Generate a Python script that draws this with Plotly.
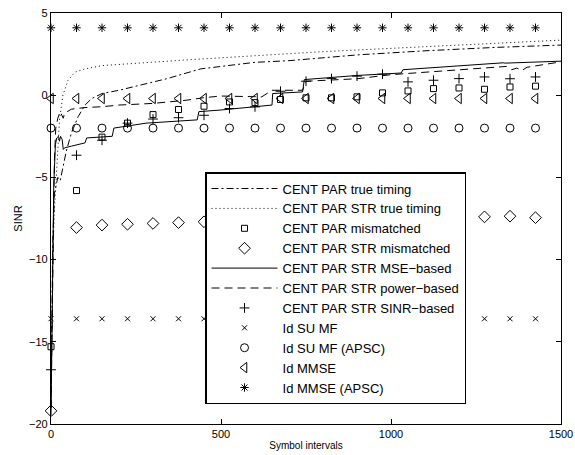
import plotly.graph_objects as go

# ---- data ----
marker_x = [0, 75, 150, 225, 300, 375, 450, 525, 600, 675, 750, 825, 900, 975,
            1050, 1125, 1200, 1275, 1350, 1425]

cent_par_mismatched = [-15.3, -5.8, -2.55, -1.7, -1.18, -0.87, -0.67, -0.41, -0.45, -0.26,
                       -0.16, -0.16, -0.1, 0.14, 0.26, 0.4, 0.44, 0.36, 0.5, 0.55]
cent_par_str_mismatched = [-19.2, -8.05, -7.9, -7.85, -7.8, -7.75, -7.7, -7.65, -7.65, -7.6,
                           -7.6, -7.55, -7.55, -7.5, -7.5, -7.45, -7.45, -7.4, -7.36, -7.45]
cent_par_str_sinr = [-16.7, -3.65, -2.74, -1.7, -1.45, -1.37, -1.22, -0.81, -0.71, 0.24,
                     0.85, 1.01, 1.16, 1.28, 0.81, 0.91, 1.01, 1.11, 1.0, 1.11]
id_su_mf = [-13.6] * 20
id_su_mf_apsc = [-2.0] * 20
id_mmse = [-0.2] * 20
id_mmse_apsc = [4.1] * 20

true_timing_x = [0, 5, 10, 20, 27, 35, 45, 60, 80, 100, 120, 150, 200, 260, 340, 440,
                 600, 700, 900, 1100, 1300, 1500]
true_timing_y = [-19.0, -9.0, -6.0, -5.0, -5.2, -4.4, -3.4, -2.3, -1.3, -0.6, -0.2, 0.1,
                 0.3, 0.6, 1.0, 1.6, 2.0, 2.1, 2.45, 2.7, 2.9, 3.05]

str_true_timing_x = [0, 5, 10, 17, 25, 35, 50, 70, 100, 150, 250, 400, 600, 800, 1000,
                     1200, 1500]
str_true_timing_y = [-19.0, -10.0, -7.0, -4.0, -1.5, 0.0, 0.9, 1.4, 1.6, 1.8, 1.95, 2.15,
                     2.4, 2.65, 2.85, 3.05, 3.35]

mse_x = [0, 5, 8, 13, 17, 22, 25, 28, 33, 36, 40, 60, 100, 105, 180, 185, 220, 280, 430,
         435, 500, 650, 652, 740, 745, 900, 1030, 1035, 1330, 1335, 1500]
mse_y = [-19.5, -8.0, -5.5, -3.0, -2.6, -2.5, -2.8, -2.5, -2.7, -3.3, -3.2, -3.1, -2.9,
         -2.6, -2.5, -2.0, -1.9, -1.7, -1.5, -1.0, -0.9, -0.6, 0.1, 0.2, 0.95, 1.2, 1.35,
         1.55, 1.97, 1.95, 2.07]

power_x = [0, 5, 10, 14, 20, 27, 32, 36, 40, 50, 60, 100, 150, 200, 300, 400, 450, 500,
           620, 650, 740, 750, 900, 1000, 1200, 1340, 1355, 1370, 1385, 1400, 1500]
power_y = [-19.0, -10.0, -4.0, -2.0, -1.4, -1.0, -1.2, -1.4, -1.1, -0.95, -0.85, -0.75,
           -0.7, -0.6, -0.5, -0.3, -0.15, -0.05, -0.1, 0.3, 0.3, 0.85, 1.0, 1.25, 1.55,
           1.75, 1.55, 1.65, 1.5, 1.7, 2.03]

x_ticks = [0, 500, 1000, 1500]
y_ticks = [-20, -15, -10, -5, 0, 5]

FONT = "Liberation Sans, Arial, sans-serif"

fig = go.Figure()

def line_trace(x, y, name, dash):
    fig.add_trace(go.Scatter(x=x, y=y, mode="lines", name=name,
                             line=dict(color="black", width=1, dash=dash)))

def marker_trace(y, name, symbol, size, lw=1):
    fig.add_trace(go.Scatter(x=marker_x, y=y, mode="markers", name=name, cliponaxis=False,
                             marker=dict(symbol=symbol, size=size, color="black",
                                         line=dict(color="black", width=lw))))

line_trace(true_timing_x, true_timing_y, "CENT PAR true timing", "7px,3px,2px,3px")
line_trace(str_true_timing_x, str_true_timing_y, "CENT PAR STR true timing", "1px,3px")
marker_trace(cent_par_mismatched, "CENT PAR mismatched", "square-open", 6)
marker_trace(cent_par_str_mismatched, "CENT PAR STR mismatched", "diamond-open", 9)
line_trace(mse_x, mse_y, "CENT PAR STR MSE−based", "solid")
line_trace(power_x, power_y, "CENT PAR STR power−based", "8px,5px")
marker_trace(cent_par_str_sinr, "CENT PAR STR SINR−based", "cross-thin-open", 7)
marker_trace(id_su_mf, "Id SU MF", "x-thin-open", 5)
marker_trace(id_su_mf_apsc, "Id SU MF (APSC)", "circle-open", 8)
marker_trace(id_mmse, "Id MMSE", "triangle-left-open", 9)
marker_trace(id_mmse_apsc, "Id MMSE (APSC)", "asterisk-open", 7)

axis_common = dict(showline=True, linecolor="black", linewidth=1.2, mirror="ticks",
                   ticks="inside", ticklen=5, tickcolor="black", showgrid=False,
                   zeroline=False, automargin=False,
                   tickfont=dict(size=11, color="black", family=FONT))

fig.update_layout(
    width=575, height=455,
    margin=dict(l=51, r=14, t=13, b=31),
    paper_bgcolor="white", plot_bgcolor="white",
    font=dict(family=FONT, color="black"),
    xaxis=dict(range=[0, 1500], tickvals=x_ticks,
               title=dict(text="Symbol intervals", font=dict(size=10), standoff=2),
               **axis_common),
    yaxis=dict(range=[-20, 5], tickvals=y_ticks,
               title=dict(text="SINR", font=dict(size=11), standoff=4),
               **axis_common),
    legend=dict(x=0.302, y=0.613, xanchor="left", yanchor="top",
                bgcolor="white", bordercolor="black", borderwidth=1.5,
                font=dict(size=13, color="black", family=FONT),
                itemwidth=66, tracegroupgap=0),
    showlegend=True,
)

fig.write_html(
    "out.html",
    config={"displayModeBar": False},
    post_script="document.body.style.margin='0';document.body.style.padding='0';"
                "document.body.style.overflow='hidden';",
)
